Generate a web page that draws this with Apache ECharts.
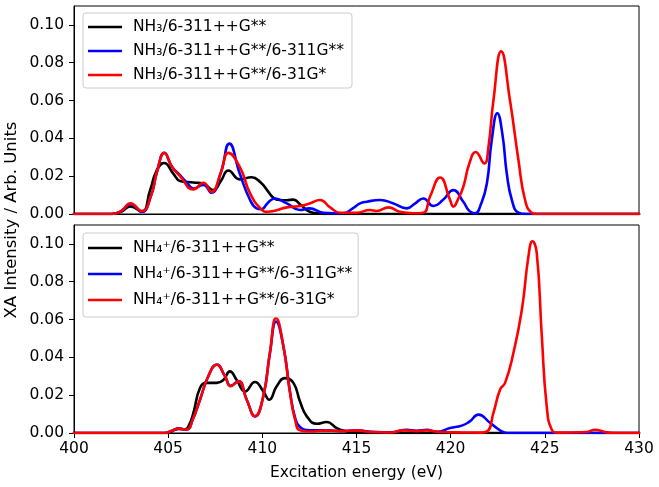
<!DOCTYPE html>
<html>
<head>
<meta charset="utf-8">
<script src="https://cdn.jsdelivr.net/npm/echarts@6/dist/echarts.min.js"></script>
<style>html,body{margin:0;padding:0;background:#fff}#c{width:659px;height:487px}</style>
</head>
<body>
<div id="c"></div>
<script>
// ---- data ----
const xTicks = [400, 405, 410, 415, 420, 425, 430];
const yTicks = [0, 0.02, 0.04, 0.06, 0.08, 0.10];

const names = [
  'NH₃/6-311++G**', 'NH₃/6-311++G**/6-311G**', 'NH₃/6-311++G**/6-31G*',
  'NH₄⁺/6-311++G**', 'NH₄⁺/6-311++G**/6-311G**', 'NH₄⁺/6-311++G**/6-31G*'
];

// top panel, black
const nh3A_x = [400,402.0,402.5,403.0,403.6,404.04,404.39,404.78,405.27,405.63,406.34,406.87,407.4,407.8,408.2,408.8,409.43,409.9,410.3,410.6,410.9,411.3,411.65,412.0,412.4,412.8,413.3,430];
const nh3A_y = [0,0,0.0012,0.0040,0.0012,0.0126,0.0230,0.0270,0.0214,0.0175,0.0167,0.0160,0.0126,0.0175,0.0230,0.0183,0.0194,0.0168,0.0120,0.0085,0.0074,0.0073,0.0076,0.0052,0.0018,0.0005,0,0];
// top panel, blue
const nh3B_x = [400,402.0,402.5,403.0,403.6,404.1,404.4,404.8,405.2,405.63,406.0,406.34,406.87,407.3,407.8,408.25,408.8,409.35,409.7,409.95,410.3,410.67,411.3,412.0,412.5,413.24,414.3,414.8,415.19,415.54,416.25,416.96,417.67,418.1,418.55,419.08,419.6,420.14,420.67,421.0,421.3,421.6,421.92,422.18,422.48,422.75,422.98,423.25,423.6,424.0,430];
const nh3B_y = [0,0,0.0015,0.0052,0.0012,0.0100,0.0220,0.0323,0.0250,0.0205,0.0165,0.0135,0.0153,0.0112,0.0220,0.0372,0.0214,0.0074,0.0030,0.0025,0.0060,0.0082,0.0056,0.0021,0.0030,0.0007,0.0004,0.0030,0.0056,0.0065,0.0074,0.0056,0.0030,0.0055,0.0082,0.0042,0.0075,0.0126,0.0065,0.0015,0.0004,0.0050,0.0160,0.0390,0.0533,0.0420,0.0214,0.0074,0.0007,0,0];
// top panel, red
const nh3C_x = [400,402.0,402.5,403.0,403.6,404.1,404.4,404.8,405.2,405.63,406.34,406.87,407.3,407.8,408.2,408.8,409.35,409.9,410.26,410.6,411.3,412.0,412.5,413.06,413.6,414.13,415.0,415.72,416.07,416.7,417.3,418.0,418.55,418.9,419.44,419.97,420.14,420.4,420.67,421.0,421.33,421.79,422.0,422.27,422.68,423.15,423.6,423.95,424.3,424.6,430];
const nh3C_y = [0,0,0.0015,0.0056,0.0015,0.0100,0.0220,0.0323,0.0250,0.0200,0.0130,0.0165,0.0117,0.0220,0.0323,0.0249,0.0109,0.0030,0.0012,0.0016,0.0035,0.0042,0.0055,0.0074,0.0035,0.0007,0.0007,0.0021,0.0016,0.0035,0.0012,0.0004,0.0007,0.0091,0.0193,0.0074,0.0039,0.0080,0.0144,0.0270,0.0328,0.0267,0.0350,0.0600,0.0860,0.0600,0.0284,0.0074,0.0007,0,0];

// bottom panel, black
const nh4A_x = [400,405.0,405.3,405.54,405.9,406.1,406.34,406.69,407.05,407.58,407.93,408.28,408.64,409.08,409.61,410.05,410.37,410.76,411.2,411.65,412.0,412.36,412.89,413.42,413.95,414.48,415.0,430];
const nh4A_y = [0,0,0.0015,0.0022,0.0020,0.0040,0.0106,0.0238,0.0265,0.0265,0.0280,0.0326,0.0280,0.0220,0.0270,0.0220,0.0176,0.0247,0.0290,0.0265,0.0167,0.0088,0.0049,0.0058,0.0026,0.0008,0,0];
// bottom panel, blue
const nh4B_x = [400,404.8,405.2,405.54,405.98,406.3,406.69,407.13,407.58,408.02,408.32,408.73,409.17,409.61,410.05,410.4,410.73,411.12,411.47,411.74,412.0,412.53,413.4,414.2,415.0,416.0,416.8,417.67,418.2,418.73,419.26,419.97,420.59,421.0,421.47,422.1,422.62,423.0,430];
const nh4B_y = [0,0,0.0012,0.0023,0.0018,0.0070,0.0176,0.0300,0.0362,0.0300,0.0250,0.0275,0.0176,0.0088,0.0194,0.0420,0.0590,0.0458,0.0218,0.0080,0.0032,0.0014,0.0014,0.0010,0.0014,0.0005,0.0004,0.0017,0.0012,0.0017,0.0006,0.0026,0.0039,0.0060,0.0097,0.0053,0.0014,0,0];
// bottom panel, red
const nh4C_x = [400,404.8,405.2,405.54,405.98,406.3,406.69,407.13,407.58,408.02,408.32,408.73,409.17,409.61,410.05,410.4,410.73,411.12,411.47,411.74,412.0,412.5,413.4,414.2,415.0,415.8,416.8,417.5,418.2,418.73,419.5,420.7,421.5,421.92,422.27,422.62,422.89,423.33,423.78,424.13,424.34,424.57,424.84,425.1,425.37,425.7,427.2,427.67,428.2,428.7,430];
const nh4C_y = [0,0,0.0012,0.0023,0.0018,0.0070,0.0176,0.0300,0.0361,0.0300,0.0247,0.0273,0.0176,0.0088,0.0194,0.0423,0.0608,0.0458,0.0212,0.0070,0.0014,0.0008,0.0014,0.0010,0.0014,0.0005,0.0003,0.0014,0.0010,0.0014,0.0005,0.0003,0.0002,0.0008,0.0106,0.0229,0.0265,0.0423,0.0652,0.0934,0.1014,0.0952,0.0511,0.0141,0.0017,0.0002,0.0005,0.0017,0.0005,0,0];

// ---- chart ----
const zip = (xs, ys) => xs.map((x, i) => [x, ys[i]]);
const FONT = 'DejaVu Sans';
const FS = 15.5;
const colors = ['#000000', '#0000ff', '#ff0000'];

function mkSeries(name, xs, ys, color, idx) {
  return {
    name: name, type: 'line', xAxisIndex: idx, yAxisIndex: idx,
    data: zip(xs, ys), smooth: 0.5,
    symbol: 'none', lineStyle: { color: color, width: 2.6, join: 'round', cap: 'round' },
    itemStyle: { color: color },
    z: 2, animation: false
  };
}

function yAxisCfg(idx) {
  return {
    type: 'value', gridIndex: idx, min: 0, max: 0.11,
    axisLine: { show: true, lineStyle: { color: '#000', width: 1 } },
    axisTick: { show: true, inside: false, length: 5, customValues: yTicks, lineStyle: { color: '#000' } },
    axisLabel: { customValues: yTicks, color: '#000', fontFamily: FONT, fontSize: FS, margin: 10,
                 formatter: v => v.toFixed(2) },
    splitLine: { show: false }
  };
}

const legendIcon = 'path://M0,0 L34,0 L34,2.7 L0,2.7 Z';
const legendBase = {
  orient: 'vertical', left: 83, itemWidth: 34, itemHeight: 14, itemGap: 8,
  icon: legendIcon, symbolKeepAspect: true,
  backgroundColor: 'rgba(255,255,255,0.8)',
  borderColor: '#cccccc', borderWidth: 1, borderRadius: 3
};

const chart = echarts.init(document.getElementById('c'), null, { renderer: 'canvas' });
chart.setOption({
  backgroundColor: '#fff',
  animation: false,
  grid: [
    { left: 74, right: 20, top: 6, height: 208, show: true, borderColor: '#000', borderWidth: 1, backgroundColor: 'transparent' },
    { left: 74, right: 20, top: 225, height: 208, show: true, borderColor: '#000', borderWidth: 1, backgroundColor: 'transparent' }
  ],
  xAxis: [
    { type: 'value', gridIndex: 0, min: 400, max: 430, interval: 5,
      axisLine: { show: true, lineStyle: { color: '#000' } }, axisTick: { show: false },
      axisLabel: { show: false }, splitLine: { show: false } },
    { type: 'value', gridIndex: 1, min: 400, max: 430, interval: 5,
      axisLine: { show: true, lineStyle: { color: '#000' } },
      axisTick: { show: true, length: 5, lineStyle: { color: '#000' } },
      axisLabel: { color: '#000', fontFamily: FONT, fontSize: FS, margin: 8 },
      splitLine: { show: false },
      name: 'Excitation energy (eV)', nameLocation: 'middle', nameGap: 32,
      nameTextStyle: { color: '#000', fontFamily: FONT, fontSize: FS } }
  ],
  yAxis: [yAxisCfg(0), yAxisCfg(1)],
  legend: [
    Object.assign({}, legendBase, {
      top: 13, padding: [6, 8, 5, 5], data: names.slice(0, 3),
      textStyle: { color: '#000', fontFamily: FONT, fontSize: FS, lineHeight: 16, padding: [0, 0, 0, 6] }
    }),
    Object.assign({}, legendBase, {
      top: 233, padding: [6, 6, 8, 5], data: names.slice(3, 6),
      textStyle: { color: '#000', fontFamily: FONT, fontSize: FS, lineHeight: 18, padding: [0, 0, 0, 6] }
    })
  ],
  graphic: [{
    type: 'text', x: 12, y: 220, rotation: Math.PI / 2,
    style: { text: 'XA Intensity / Arb. Units', fill: '#000', font: '16.5px "DejaVu Sans"',
             align: 'center', verticalAlign: 'middle' }
  }],
  series: [
    mkSeries(names[0], nh3A_x, nh3A_y, colors[0], 0),
    mkSeries(names[1], nh3B_x, nh3B_y, colors[1], 0),
    mkSeries(names[2], nh3C_x, nh3C_y, colors[2], 0),
    mkSeries(names[3], nh4A_x, nh4A_y, colors[0], 1),
    mkSeries(names[4], nh4B_x, nh4B_y, colors[1], 1),
    mkSeries(names[5], nh4C_x, nh4C_y, colors[2], 1)
  ]
});
</script>
</body>
</html>
